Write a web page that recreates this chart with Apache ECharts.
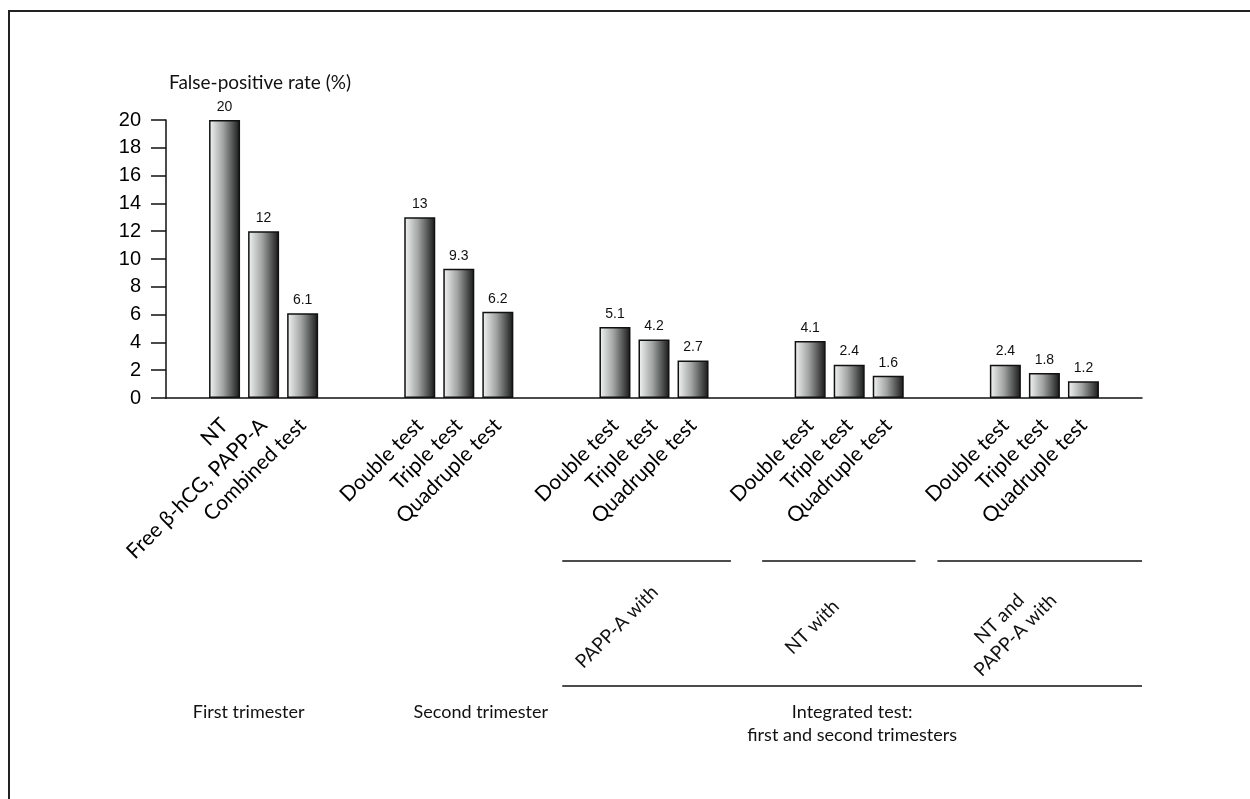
<!DOCTYPE html>
<html>
<head>
<meta charset="utf-8">
<script src="https://cdn.jsdelivr.net/npm/echarts@6/dist/echarts.min.js"></script>
<style>
html,body{margin:0;padding:0;background:#fff;}
#main{width:1250px;height:799px;}
</style>
</head>
<body>
<div id="main"></div>
<script>
// ---- data ----
const yTitle = 'False-positive rate (%)';
const groupTests = [
  ['NT', 'Free β-hCG, PAPP-A', 'Combined test'],
  ['Double test', 'Triple test', 'Quadruple test'],
  ['Double test', 'Triple test', 'Quadruple test'],
  ['Double test', 'Triple test', 'Quadruple test'],
  ['Double test', 'Triple test', 'Quadruple test']
];
const groupValues = [
  [20, 12, 6.1],
  [13, 9.3, 6.2],
  [5.1, 4.2, 2.7],
  [4.1, 2.4, 1.6],
  [2.4, 1.8, 1.2]
];
const subGroupLabels = ['PAPP-A with', 'NT with', 'NT and\nPAPP-A with'];
const periodLabels = ['First trimester', 'Second trimester', 'Integrated test:\nfirst and second trimesters'];
const yTicks = [0, 2, 4, 6, 8, 10, 12, 14, 16, 18, 20];

// ---- build category axis with spacer slots ----
const categories = [''];
const values = [null];
const groupIdx = []; // indices of the bars in each group
groupTests.forEach((g, gi) => {
  if (gi > 0) { categories.push('', ''); values.push(null, null); }
  const idx = [];
  g.forEach((name, i) => {
    idx.push(categories.length);
    categories.push(name);
    values.push(groupValues[gi][i]);
  });
  groupIdx.push(idx);
});
categories.push(''); values.push(null);

const FONT = 'Lato';
const chart = echarts.init(document.getElementById('main'), null, {renderer: 'canvas'});

const barGrad = new echarts.graphic.LinearGradient(0, 0, 1, 0, [
  {offset: 0, color: '#f4f6f6'},
  {offset: 0.45, color: '#a2a4a4'},
  {offset: 1, color: '#161616'}
]);

chart.setOption({
  backgroundColor: '#fff',
  animation: false,
  title: {
    text: yTitle,
    left: 164, top: 68,
    textStyle: {fontFamily: FONT, fontSize: 19, fontWeight: 'normal', color: '#111'}
  },
  grid: {left: 166, right: 108, top: 120, bottom: 401, containLabel: false},
  xAxis: {
    type: 'category',
    data: categories,
    boundaryGap: true,
    axisLine: {lineStyle: {color: '#111', width: 1.5}},
    axisTick: {
      alignWithLabel: true, length: 13,
      interval: (i, v) => v !== '',
      lineStyle: {color: '#111', width: 1.5}
    },
    axisLabel: {
      interval: 0, rotate: 45, margin: 24,
      fontFamily: FONT, fontSize: 21, color: '#000',
      lineHeight: 22
    },
    splitLine: {show: false}
  },
  yAxis: {
    type: 'value',
    min: 0, max: 20, interval: 2,
    axisLine: {show: true, lineStyle: {color: '#111', width: 1.5}},
    axisTick: {show: true, length: 15, lineStyle: {color: '#111', width: 1.5}},
    axisLabel: {
      margin: 25, fontFamily: 'Liberation Sans', fontSize: 20, color: '#000',
      formatter: v => yTicks.includes(v) ? String(v) : ''
    },
    splitLine: {show: false}
  },
  series: [{
    type: 'bar',
    data: values,
    barWidth: 31,
    itemStyle: {color: barGrad, borderColor: '#111', borderWidth: 1.5},
    label: {
      show: true, position: 'top', distance: 6,
      fontFamily: 'Liberation Sans', fontSize: 14, color: '#111',
      formatter: p => p.value == null ? '' : String(p.value)
    }
  }]
});

// ---- annotations positioned through the category axis scale ----
const cx = i => chart.convertToPixel({xAxisIndex: 0}, i);
const slotW = cx(1) - cx(0);
const yAt = v => chart.convertToPixel({yAxisIndex: 0}, v);
const axisEnd = cx(categories.length - 1) + slotW / 2;
const baseY = yAt(0);

const lineStyle = {stroke: '#111', lineWidth: 1.5};
const textStyleBase = {fontFamily: FONT, fontSize: 18, fill: '#111', align: 'center', verticalAlign: 'middle', lineHeight: 23};

// subgroup lines (slot offsets from first/last bar of each integrated group)
const subSpan = [[-1.35, 0.97], [-1.23, 0.7], [-1.74, 1.5]];
const graphics = [];
// frame
graphics.push({type: 'rect', shape: {x: 9, y: 11, width: 1400, height: 1000}, style: {fill: 'none', stroke: '#222', lineWidth: 2}, silent: true});

const subY = baseY + 163;
const bigY = baseY + 288;
let bigStart = null;
subGroupLabels.forEach((lab, k) => {
  const idx = groupIdx[k + 2];
  const x1 = cx(idx[0]) + subSpan[k][0] * slotW;
  const x2 = cx(idx[2]) + subSpan[k][1] * slotW;
  if (bigStart === null) bigStart = x1;
  graphics.push({type: 'line', shape: {x1: x1, y1: subY, x2: x2, y2: subY}, style: lineStyle, silent: true});
  graphics.push({
    type: 'text', x: cx(idx[0]) + 2, y: subY + 66, rotation: Math.PI / 4,
    style: Object.assign({}, textStyleBase, {text: lab, fontSize: 19}), silent: true
  });
});
graphics.push({type: 'line', shape: {x1: bigStart, y1: bigY, x2: axisEnd, y2: bigY}, style: lineStyle, silent: true});

// period labels
const p1x = (cx(groupIdx[0][0]) + cx(groupIdx[0][2])) / 2 - 15;
const p2x = (cx(groupIdx[1][0]) + cx(groupIdx[1][2])) / 2 + 22;
const p3x = (bigStart + axisEnd) / 2;
graphics.push({type: 'text', x: p1x, y: baseY + 314, style: Object.assign({}, textStyleBase, {text: periodLabels[0]}), silent: true});
graphics.push({type: 'text', x: p2x, y: baseY + 314, style: Object.assign({}, textStyleBase, {text: periodLabels[1]}), silent: true});
graphics.push({type: 'text', x: p3x, y: baseY + 314 + 11.5, style: Object.assign({}, textStyleBase, {text: periodLabels[2]}), silent: true});

chart.setOption({graphic: graphics});
</script>
</body>
</html>
